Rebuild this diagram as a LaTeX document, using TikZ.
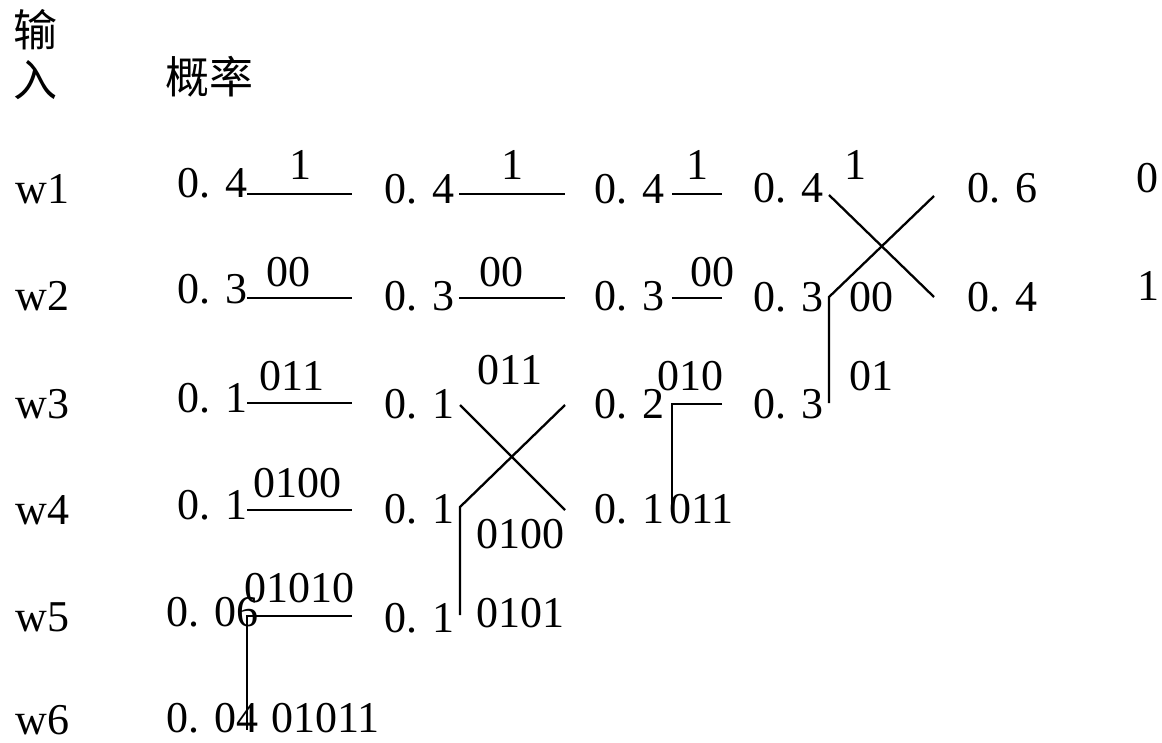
\documentclass[tikz,border=0pt]{standalone}
\usepackage{fontspec}
\setmainfont{Liberation Serif}
\newfontfamily\cjk{Noto Sans CJK SC}
\usetikzlibrary{positioning}
\tikzset{
  prob/.style={anchor=base west, inner sep=0pt},
  code/.style={anchor=base, inner sep=0pt},
  wire/.style={line width=1.15pt, line cap=butt},
}

\begin{document}
\begin{tikzpicture}[x=0.5pt, y=-0.5pt, font=\fontsize{22}{26}\selectfont]
  \useasboundingbox (0,0) rectangle (1162,743);
  % headings
  \node[prob] (in1) at (13,47) {\cjk 输};
  \node[prob] (in2) at (13,97) {\cjk 入};
  \node[prob] (pr) at (165,94) {\cjk 概率};
  % inputs
  \node[prob] (w1) at (15,204) {w1};
  \node[prob] (w2) at (15,311) {w2};
  \node[prob] (w3) at (15,418) {w3};
  \node[prob] (w4) at (15,524) {w4};
  \node[prob] (w5) at (15,631) {w5};
  \node[prob] (w6) at (15,734) {w6};
  % first column
  \node[prob] (p11) at (177,198) {0. 4};
  \node[prob] (p12) at (177,304) {0. 3};
  \node[prob] (p13) at (177,412) {0. 1};
  \node[prob] (p14) at (177,519) {0. 1};
  \node[prob] (p15) at (166,626) {0. 06};
  \node[prob] (p16) at (166,732) {0. 04};
  % second column
  \node[prob] (p21) at (384,204) {0. 4};
  \node[prob] (p22) at (384,311) {0. 3};
  \node[prob] (p23) at (384,418) {0. 1};
  \node[prob] (p24) at (384,523) {0. 1};
  \node[prob] (p25) at (384,632) {0. 1};
  % third column
  \node[prob] (p31) at (594,204) {0. 4};
  \node[prob] (p32) at (594,311) {0. 3};
  \node[prob] (p33) at (594,418) {0. 2};
  \node[prob] (p34) at (594,523) {0. 1};
  % fourth column
  \node[prob] (p41) at (753,203) {0. 4};
  \node[prob] (p42) at (753,312) {0. 3};
  \node[prob] (p43) at (753,418) {0. 3};
  % fifth column
  \node[prob] (p51) at (967,203) {0. 6};
  \node[prob] (p52) at (967,312) {0. 4};
  \node[prob] (b0) at (1136,193) {0};
  \node[prob] (b1) at (1137,300) {1};
  % codewords
  \node[code] (c11) at (300,180) {1};
  \node[code] (c12) at (288,287) {00};
  \node[code] (c13) at (292,390) {011};
  \node[code] (c14) at (297,497) {0100};
  \node[code] (c15) at (299,602) {01010};
  \node[prob] (c16) at (271,732) {01011};
  \node[code] (c21) at (512,180) {1};
  \node[code] (c22) at (501,287) {00};
  \node[code] (c23) at (510,385) {011};
  \node[prob] (c24) at (476,548) {0100};
  \node[prob] (c25) at (476,627) {0101};
  \node[code] (c31) at (697,180) {1};
  \node[code] (c32) at (712,287) {00};
  \node[code] (c33) at (690,390) {010};
  \node[prob] (c34) at (669,523) {011};
  \node[code] (c41) at (855,180) {1};
  \node[prob] (c42) at (849,312) {00};
  \node[prob] (c43) at (849,390) {01};
  % ends of the wires
  \coordinate (a1) at (247,194); \coordinate (e1) at (352,194);
  \coordinate (a2) at (247,298); \coordinate (e2) at (352,298);
  \coordinate (a3) at (247,403); \coordinate (e3) at (352,403);
  \coordinate (a4) at (247,510); \coordinate (e4) at (352,510);
  \coordinate (a5) at (247,616); \coordinate (e5) at (352,616);
  \coordinate (a6) at (247,730);
  \coordinate (f1) at (459,194); \coordinate (g1) at (565,194);
  \coordinate (f2) at (459,298); \coordinate (g2) at (565,298);
  \coordinate (f3) at (460,405); \coordinate (g3) at (565,405);
  \coordinate (f4) at (460,507); \coordinate (g4) at (565,510);
  \coordinate (f5) at (460,615);
  \coordinate (h1) at (672,194); \coordinate (k1) at (722,194);
  \coordinate (h2) at (672,298); \coordinate (k2) at (722,298);
  \coordinate (h3) at (672,404); \coordinate (k3) at (722,404);
  \coordinate (h4) at (672,508);
  \coordinate (m1) at (829,195); \coordinate (n1) at (934,196);
  \coordinate (m2) at (829,297); \coordinate (n2) at (934,297);
  \coordinate (m3) at (829,403);
  % wires
  \draw[wire] (a1) -- (e1);
  \draw[wire] (a2) -- (e2);
  \draw[wire] (a3) -- (e3);
  \draw[wire] (a4) -- (e4);
  \draw[wire] (e5) -- (a5) -- (a6);
  \draw[wire] (f1) -- (g1);
  \draw[wire] (f2) -- (g2);
  \draw[wire] (f3) -- (g4);
  \draw[wire] (g3) -- (f4) -- (f5);
  \draw[wire] (h1) -- (k1);
  \draw[wire] (h2) -- (k2);
  \draw[wire] (k3) -- (h3) -- (h4);
  \draw[wire] (m1) -- (n2);
  \draw[wire] (n1) -- (m2) -- (m3);
\end{tikzpicture}
\end{document}
